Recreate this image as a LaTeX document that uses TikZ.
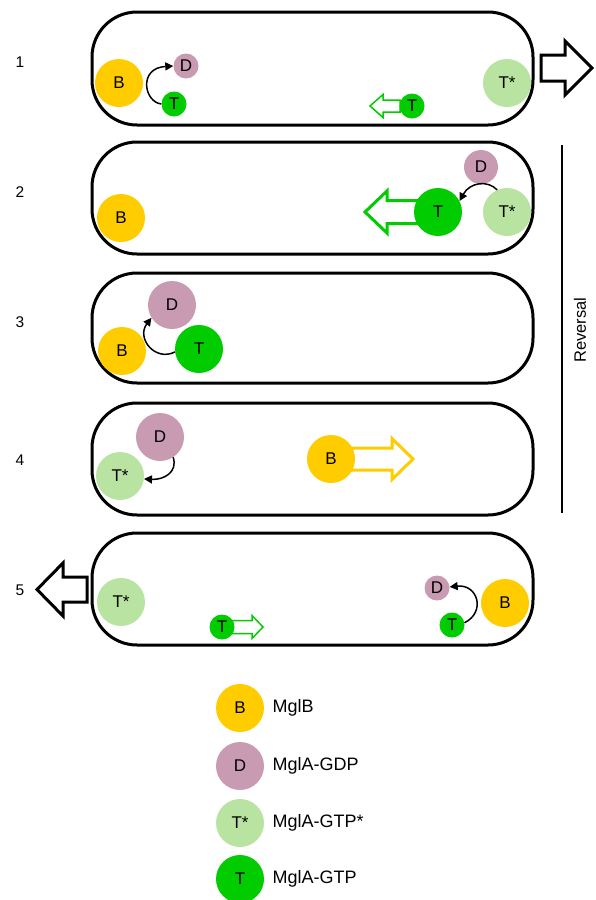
\documentclass[tikz,border=0pt]{standalone}
\usepackage{fontspec}
\setmainfont{Liberation Sans}
\usetikzlibrary{arrows.meta}
\definecolor{cB}{HTML}{FFCC00}
\definecolor{cD}{HTML}{C99BB3}
\definecolor{cTs}{HTML}{B8E3A0}
\definecolor{cT}{HTML}{00CC00}
\tikzset{
  mol/.style={circle,inner sep=0pt,font=\fontsize{17}{17}\selectfont},
  big/.style={mol,minimum size=48pt},
  small/.style={mol,minimum size=25pt},
  molB/.style={fill=cB},
  molD/.style={fill=cD},
  molTs/.style={fill=cTs},
  molT/.style={fill=cT},
  cell/.style={draw=black,line width=3pt,rounded corners=45pt},
  conn/.style={line width=1.5pt,-{Triangle[length=8pt,width=8pt]}},
  hollow/.style={fill=white,line join=miter},
  lbl/.style={font=\fontsize{15.5}{15.5}\selectfont},
  leg/.style={anchor=west,font=\fontsize{18}{18}\selectfont}
}
\begin{document}
\begin{tikzpicture}[x=1pt,y=-1pt]
\useasboundingbox (0,0) rectangle (595,900);
% cells
\draw[cell] (92,12) rectangle (533,125);
\draw[cell] (92,142) rectangle (533,254);
\draw[cell] (92,273) rectangle (533,383);
\draw[cell] (92,403) rectangle (533,515);
\draw[cell] (92,533) rectangle (533,645);
% numbers
\node[lbl] (n1) at (20,62) {1};
\node[lbl] (n2) at (20,192) {2};
\node[lbl] (n3) at (20,322) {3};
\node[lbl] (n4) at (20,460) {4};
\node[lbl] (n5) at (20,590) {5};
% reversal
\draw[line width=2pt] (562,145) -- (562,513);
\node[lbl,rotate=90,font=\fontsize{16.5}{16.5}\selectfont] (rev) at (580,330) {Reversal};
% hollow arrows
\draw[hollow,draw=black,line width=3pt] (541,55) -- (565,55) -- (565,41) -- (592,68) -- (565,95) -- (565,81) -- (541,81) -- cycle;
\draw[hollow,draw=cT,line width=1.5pt] (400,100) -- (383,100) -- (383,94.5) -- (370,106) -- (383,117.5) -- (383,112) -- (400,112) -- cycle;
\draw[hollow,draw=cT,line width=3pt] (420,200.5) -- (387,200.5) -- (387,191) -- (365,212) -- (387,233) -- (387,223.5) -- (420,223.5) -- cycle;
\draw[hollow,draw=cB,line width=3pt] (340,448) -- (392,448) -- (392,438.5) -- (413,459) -- (392,479.5) -- (392,470) -- (340,470) -- cycle;
\draw[hollow,draw=cT,line width=1.5pt] (225,620.5) -- (252,620.5) -- (252,615.5) -- (263,627) -- (252,638.5) -- (252,633.5) -- (225,633.5) -- cycle;
\draw[hollow,draw=black,line width=3pt] (87,577) -- (63,577) -- (63,563) -- (37,589.5) -- (63,616) -- (63,602) -- (87,602) -- cycle;
% cell 1
\node[big,molB] (B1) at (119,83) {B};
\node[small,molD] (D1) at (186,66) {D};
\node[small,molT] (T1) at (174,104) {T};
\node[big,molTs] (Ts1) at (507,83) {T*};
\node[small,molT] (Tm1) at (412,106) {T};
\draw[conn] (T1.180) .. controls (144,102) and (138,68) .. (D1.180);
% cell 2
\node[big,molB] (B2) at (121,218) {B};
\node[mol,minimum size=34pt,molD] (D2) at (481,167) {D};
\node[big,molT] (T2) at (438,212) {T};
\node[big,molTs] (Ts2) at (507,212) {T*};
\draw[conn] (Ts2.114) .. controls (488,180) and (470,182) .. (T2.27);
% cell 3
\node[big,molD] (D3) at (172,305) {D};
\node[big,molB] (B3) at (122,351) {B};
\node[big,molT] (T3) at (199,349) {T};
\draw[conn] (T3.187) .. controls (155,362) and (136,338) .. (D3.212);
% cell 4
\node[big,molD] (D4) at (160,437) {D};
\node[big,molTs] (Ts4) at (120,476) {T*};
\node[big,molB] (B4) at (331,459) {B};
\draw[conn] (D4.303) .. controls (178,472) and (164,480) .. (Ts4.-7);
% cell 5
\node[big,molTs] (Ts5) at (121,602) {T*};
\node[small,molT] (Tm5) at (222,627) {T};
\node[small,molD] (D5) at (437,588) {D};
\node[small,molT] (T5) at (452,625) {T};
\node[big,molB] (B5) at (505,603) {B};
\draw[conn] (T5.10) .. controls (486,612) and (478,584) .. (D5.5);
% legend
\node[big,molB] (LB) at (240,708) {B};
\node[big,molD] (LD) at (240,766) {D};
\node[big,molTs] (LTs) at (240,823) {T*};
\node[big,molT] (LT) at (240,879) {T};
\node[leg] (tB) at (269,708) {MglB};
\node[leg] (tD) at (269,766) {MglA-GDP};
\node[leg] (tTs) at (269,823) {MglA-GTP*};
\node[leg] (tT) at (269,879) {MglA-GTP};
\end{tikzpicture}
\end{document}
